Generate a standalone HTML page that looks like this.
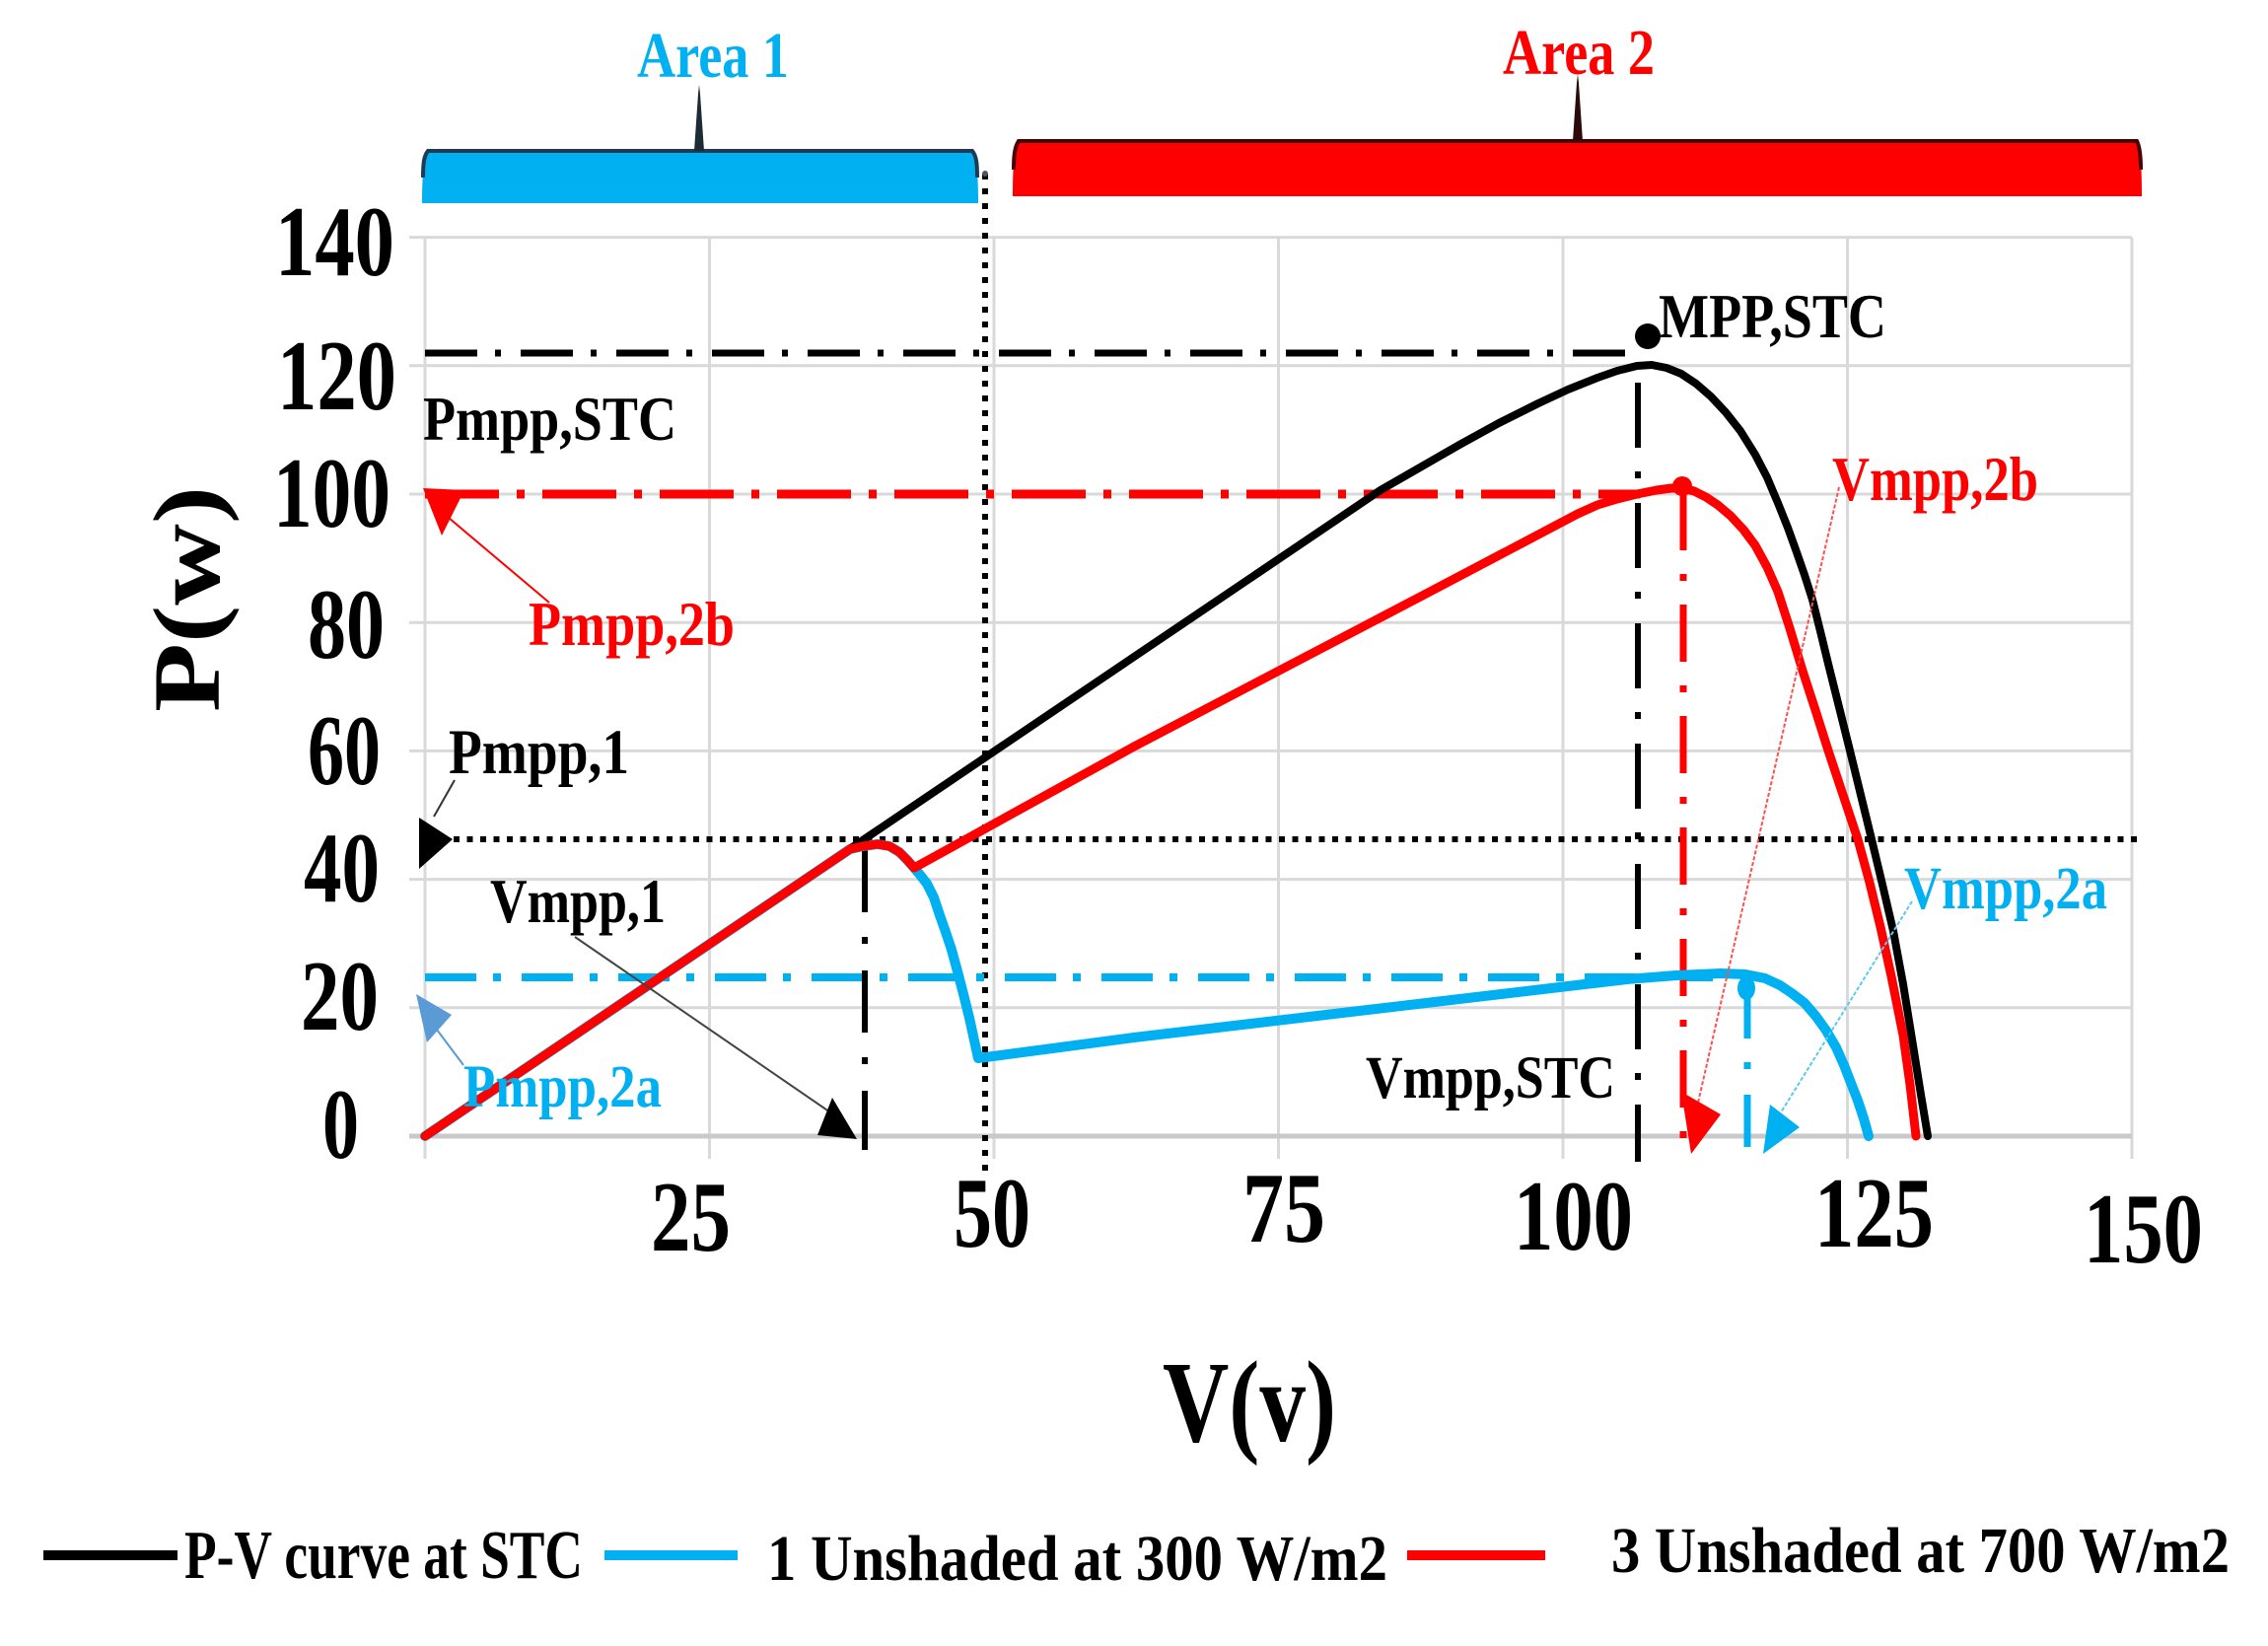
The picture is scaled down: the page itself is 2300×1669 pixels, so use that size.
<!DOCTYPE html>
<html>
<head>
<meta charset="utf-8">
<style>
html,body{margin:0;padding:0;background:#fff;}
svg{display:block;}
text{font-family:"Liberation Serif","Times New Roman",serif;font-weight:bold;}
</style>
</head>
<body>
<svg width="2300" height="1669" viewBox="0 0 2300 1669" xmlns="http://www.w3.org/2000/svg">
<rect width="2300" height="1669" fill="#fff"/>

<!-- Grid -->
<g stroke="#d9d9d9" stroke-width="3" fill="none">
  <line x1="415" y1="1021.8" x2="2162" y2="1021.8"/>
  <line x1="415" y1="891.6" x2="2162" y2="891.6"/>
  <line x1="415" y1="761.4" x2="2162" y2="761.4"/>
  <line x1="415" y1="631.2" x2="2162" y2="631.2"/>
  <line x1="415" y1="501" x2="2162" y2="501"/>
  <line x1="415" y1="370.8" x2="2162" y2="370.8"/>
  <line x1="415" y1="240.6" x2="2162" y2="240.6"/>
  <line x1="431" y1="241" x2="431" y2="1175"/>
  <line x1="719.5" y1="241" x2="719.5" y2="1175"/>
  <line x1="1008" y1="241" x2="1008" y2="1175"/>
  <line x1="1296.5" y1="241" x2="1296.5" y2="1175"/>
  <line x1="1585" y1="241" x2="1585" y2="1175"/>
  <line x1="1873.5" y1="241" x2="1873.5" y2="1175"/>
  <line x1="2162" y1="241" x2="2162" y2="1175"/>
</g>
<line x1="415" y1="1152" x2="2162" y2="1152" stroke="#c9c9c9" stroke-width="5"/>

<!-- Area braces -->
<path d="M428,206 C428,182 429,162 434,153 L986,153 C991,162 992,182 992,206 Z" fill="#00b0f0"/>
<path d="M429,180 C429,165 430,158 434,153 L986,153 C990,158 991,165 991,180" fill="none" stroke="#1d3b55" stroke-width="4"/>
<path d="M704,153 L708,95 L709,86 L710,95 L714,153 Z" fill="#1d2b35"/>
<path d="M1027,199 C1027,172 1028,152 1033,143 L2167,143 C2171,152 2172,172 2172,199 Z" fill="#ff0000"/>
<path d="M1028,172 C1028,158 1029,149 1033,143 L2167,143 C2170,149 2171,158 2171,172" fill="none" stroke="#4a0000" stroke-width="4"/>
<path d="M1595,143 L1599,84 L1600,75 L1601,84 L1605,143 Z" fill="#2a0a0a"/>

<text x="646" y="78" font-size="66" fill="#00b0f0" textLength="154" lengthAdjust="spacingAndGlyphs">Area 1</text>
<text x="1524" y="75" font-size="66" fill="#ff0000" textLength="154" lengthAdjust="spacingAndGlyphs">Area 2</text>

<!-- Dotted vertical at V~49 -->
<line x1="999" y1="176" x2="999" y2="1190" stroke="#000" stroke-width="6" stroke-dasharray="6 9"/>
<circle cx="999" cy="176" r="3" fill="#555"/>

<!-- Dash-dot horizontal lines -->
<line x1="431" y1="358" x2="1653" y2="358" stroke="#000" stroke-width="7" stroke-dasharray="53 18 6 20"/>
<line x1="431" y1="501" x2="1663" y2="501" stroke="#ff0000" stroke-width="9" stroke-dasharray="75 18 8 18"/>
<line x1="431" y1="991" x2="1737" y2="991" stroke="#00b0f0" stroke-width="8" stroke-dasharray="52 17 8 21"/>

<!-- Dotted horizontal Pmpp,1 -->
<line x1="460" y1="851" x2="2170" y2="851" stroke="#000" stroke-width="6" stroke-dasharray="6 7.5"/>

<!-- Vertical dash-dot lines -->
<line x1="877" y1="862" x2="877" y2="1166" stroke="#000" stroke-width="6" stroke-dasharray="63 25 7 27"/>
<line x1="1661" y1="388" x2="1661" y2="1178" stroke="#000" stroke-width="6" stroke-dasharray="66 24 7 25"/>
<line x1="1707" y1="500" x2="1707" y2="1170" stroke="#ff0000" stroke-width="7" stroke-dasharray="58 24 7 24"/>
<line x1="1772" y1="1000" x2="1772" y2="1175" stroke="#00b0f0" stroke-width="7" stroke-dasharray="53 24 7 26"/>

<!-- Curves -->
<polyline fill="none" stroke="#00b0f0" stroke-width="10" stroke-linejoin="round" stroke-linecap="round"
 points="431,1152 862,861 875,858 890,856 902,858 912,864 920,872 927,880 933,887 940,896 947,910 953,928 959,945 965,963 971,985 977,1008 983,1032 988,1055 992,1073 1150,1052 1590,1000 1650,993 1700,989 1745,987 1770,988 1790,992 1805,999 1817,1007 1830,1017 1842,1031 1852,1045 1862,1062 1870,1080 1877,1098 1884,1116 1890,1134 1895,1152"/>
<polyline fill="none" stroke="#000" stroke-width="8" stroke-linejoin="round" stroke-linecap="round"
 points="431,1152 1400,497 1440,474 1480,451 1520,429 1560,409 1590,395 1620,383 1640,376 1660,371 1675,370 1690,373 1705,379 1720,389 1735,402 1750,418 1765,437 1780,461 1792,484 1803,510 1813,535 1822,560 1830,583 1838,608 1846,640 1854,673 1865,717 1876,761 1887,806 1898,851 1909,897 1920,944 1930,998 1940,1060 1948,1110 1955,1152"/>
<polyline fill="none" stroke="#ff0000" stroke-width="9" stroke-linejoin="round" stroke-linecap="round"
 points="431,1152 862,861 875,858 890,856 902,858 912,864 920,872 927,880 1150,757 1450,600 1600,521 1620,512 1640,506 1660,501 1680,497 1695,495 1706,495 1718,498 1730,504 1742,512 1755,523 1768,537 1780,553 1792,575 1803,600 1815,637 1828,680 1841,720 1854,761 1869,806 1884,851 1896,895 1907,940 1918,990 1930,1050 1937,1100 1943,1152"/>

<!-- Markers -->
<circle cx="1671" cy="341" r="13" fill="#000"/>
<circle cx="1706" cy="493" r="10" fill="#ff0000"/>
<ellipse cx="1771" cy="1002" rx="9" ry="12" fill="#00b0f0"/>

<!-- Arrows -->
<line x1="455" y1="525" x2="557" y2="611" stroke="#ff0000" stroke-width="2"/>
<polygon points="429,495 471,497 448,543" fill="#ff0000"/>

<line x1="461" y1="791" x2="440" y2="828" stroke="#333" stroke-width="2"/>
<polygon points="425,829 459,851 425,881" fill="#000"/>

<line x1="583" y1="950" x2="848" y2="1132" stroke="#444" stroke-width="2"/>
<polygon points="844,1113 829,1151 869,1155" fill="#000"/>

<line x1="440" y1="1040" x2="470" y2="1080" stroke="#5b9bd5" stroke-width="2"/>
<polygon points="422,1008 458,1029 433,1057" fill="#5b9bd5"/>

<line x1="1865" y1="494" x2="1722" y2="1118" stroke="#ff5050" stroke-width="2" stroke-dasharray="4 2"/>
<polygon points="1705,1107 1745,1130 1715,1170" fill="#ff0000"/>

<line x1="1939" y1="914" x2="1806" y2="1128" stroke="#5bc8f0" stroke-width="2" stroke-dasharray="4 2"/>
<polygon points="1795,1120 1825,1143 1788,1170" fill="#00b0f0"/>

<!-- Annotation text -->
<text x="429" y="446" font-size="63" fill="#000" textLength="257" lengthAdjust="spacingAndGlyphs">Pmpp,STC</text>
<text x="1682" y="342" font-size="63" fill="#000" textLength="231" lengthAdjust="spacingAndGlyphs">MPP,STC</text>
<text x="536" y="654" font-size="63" fill="#ff0000" textLength="209" lengthAdjust="spacingAndGlyphs">Pmpp,2b</text>
<text x="1858" y="507" font-size="63" fill="#ff0000" textLength="209" lengthAdjust="spacingAndGlyphs">Vmpp,2b</text>
<text x="455" y="784" font-size="65" fill="#000" textLength="183" lengthAdjust="spacingAndGlyphs">Pmpp,1</text>
<text x="497" y="935" font-size="63" fill="#000" textLength="178" lengthAdjust="spacingAndGlyphs">Vmpp,1</text>
<text x="1931" y="921" font-size="61" fill="#00b0f0" textLength="206" lengthAdjust="spacingAndGlyphs">Vmpp,2a</text>
<text x="470" y="1122" font-size="61" fill="#00b0f0" textLength="201" lengthAdjust="spacingAndGlyphs">Pmpp,2a</text>
<text x="1385" y="1113" font-size="61" fill="#000" textLength="253" lengthAdjust="spacingAndGlyphs">Vmpp,STC</text>

<!-- Y tick labels -->
<g font-size="102" fill="#000">
<text x="279" y="279" textLength="121" lengthAdjust="spacingAndGlyphs">140</text>
<text x="281" y="415" textLength="121" lengthAdjust="spacingAndGlyphs">120</text>
<text x="277" y="534" textLength="119" lengthAdjust="spacingAndGlyphs">100</text>
<text x="312" y="667" textLength="78" lengthAdjust="spacingAndGlyphs">80</text>
<text x="312" y="795" textLength="74" lengthAdjust="spacingAndGlyphs">60</text>
<text x="308" y="914" textLength="77" lengthAdjust="spacingAndGlyphs">40</text>
<text x="305" y="1044" textLength="79" lengthAdjust="spacingAndGlyphs">20</text>
<text x="327" y="1174" textLength="37" lengthAdjust="spacingAndGlyphs">0</text>
</g>

<!-- X tick labels -->
<g font-size="102" fill="#000">
<text x="660" y="1268" textLength="81" lengthAdjust="spacingAndGlyphs">25</text>
<text x="967" y="1264" textLength="78" lengthAdjust="spacingAndGlyphs">50</text>
<text x="1260" y="1259" textLength="84" lengthAdjust="spacingAndGlyphs">75</text>
<text x="1535" y="1267" textLength="121" lengthAdjust="spacingAndGlyphs">100</text>
<text x="1840" y="1264" textLength="121" lengthAdjust="spacingAndGlyphs">125</text>
<text x="2113" y="1280" textLength="121" lengthAdjust="spacingAndGlyphs">150</text>
</g>

<!-- Axis titles -->
<text x="1179" y="1461" font-size="118" fill="#000" textLength="176" lengthAdjust="spacingAndGlyphs">V(v)</text>
<text transform="translate(222,722) rotate(-90)" font-size="96" fill="#000" textLength="229" lengthAdjust="spacingAndGlyphs">P(w)</text>

<!-- Legend -->
<line x1="44" y1="1577" x2="180" y2="1577" stroke="#000" stroke-width="10"/>
<text x="187" y="1600" font-size="70" fill="#000" textLength="404" lengthAdjust="spacingAndGlyphs">P-V curve at STC</text>
<line x1="613" y1="1577" x2="748" y2="1577" stroke="#00b0f0" stroke-width="10"/>
<text x="778" y="1602" font-size="66" fill="#000" textLength="629" lengthAdjust="spacingAndGlyphs">1 Unshaded at 300 W/m2</text>
<line x1="1427" y1="1577" x2="1567" y2="1577" stroke="#ff0000" stroke-width="10"/>
<text x="1634" y="1594" font-size="66" fill="#000" textLength="627" lengthAdjust="spacingAndGlyphs">3 Unshaded at 700 W/m2</text>
</svg>
</body>
</html>
